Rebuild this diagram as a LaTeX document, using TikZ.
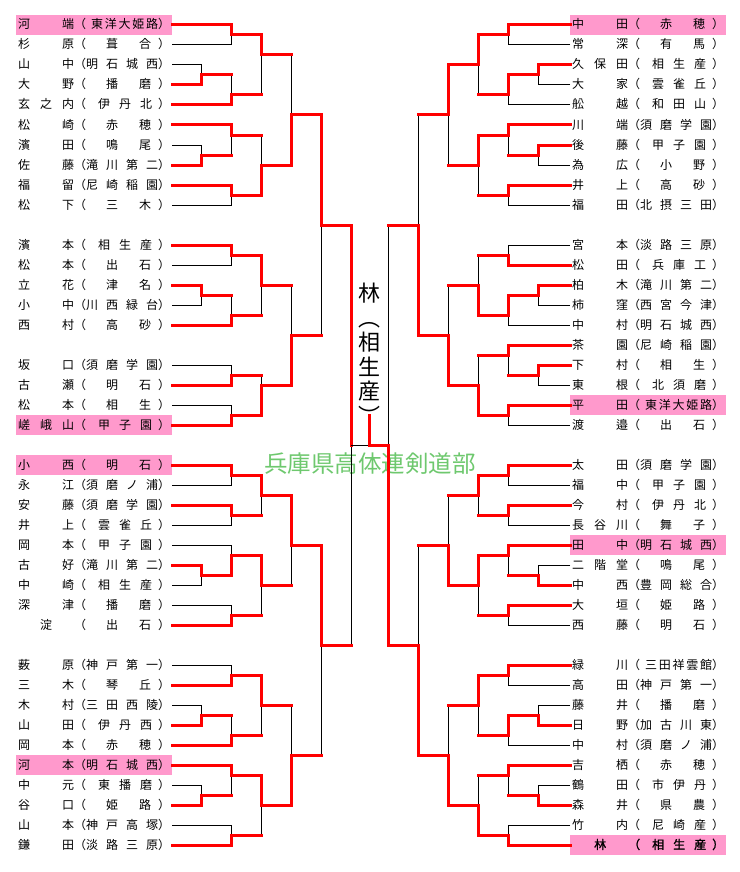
\documentclass[tikz,border=0pt]{standalone}
\usepackage{fontspec}
\newfontfamily\jp{Noto Sans CJK JP}
\newfontfamily\jpbold{Noto Sans CJK JP}[FakeBold=1.6]

\definecolor{seed}{RGB}{255,153,204}
\definecolor{orggreen}{RGB}{110,200,110}

% spread the characters of a name over a fixed width
\makeatletter
\newcount\nch
\def\countch#1{\nch=0 \@tfor\@tmp:=#1\do{\advance\nch\@ne}}
\makeatother
\newcommand\spread[1]{\spreadA#1\relax}
\def\spreadA#1{\ifx\relax#1\else#1\expandafter\spreadB\fi}
\def\spreadB#1{\ifx\relax#1\else\hfil#1\expandafter\spreadB\fi}
\def\padL{\ifcase\nch 0pt\or 30pt\or 20pt\or 12pt\or 0pt\else 5pt\fi}
\def\padR{\ifcase\nch 0pt\or 30pt\or 7pt\or 6pt\or 0pt\else 0pt\fi}
\newcommand\sname[1]{\edef\tmpa{#1}\expandafter\snameX\expandafter{\tmpa}}
\newcommand\snameX[1]{\countch{#1}\ifnum\nch=1 \makebox[56pt][c]{#1}\else\makebox[56pt][s]{\spread{#1}}\fi}
\newcommand\school[1]{\edef\tmpb{#1}\expandafter\schoolX\expandafter{\tmpb}}
\newcommand\schoolX[1]{\countch{#1}\makebox[72pt][s]{\hspace*{\padL}\spread{#1}\hspace*{\padR}}}

\tikzset{
  entry/.style = {anchor=west, inner xsep=2pt, inner ysep=0pt, minimum height=20pt,
                  text height=10pt, text depth=2pt, font=\jp\fontsize{12}{12}\selectfont},
  champ/.style = {anchor=north, inner sep=0pt, align=center, font=\jp\fontsize{22}{24.5}\selectfont},
  org/.style   = {inner sep=0pt, text=orggreen, font=\jp\fontsize{23.5}{24}\selectfont},
  lose/.style  = {draw=black, line width=1pt},
  win/.style   = {draw=red, line width=3pt, line cap=rect}
}

% match / x / y / winner / loser / colour of the loser's line
\def\bouts{
  a1/231/35/L1.east/L2.east/lose, p1/201/75/L4.east/L3.east/lose,
  a2/231/95/L5.east/p1/win, b1/261/55/a1/a2/win,
  p2/201/155/L8.east/L7.east/lose, a3/231/135/L6.east/p2/win,
  a4/231/195/L9.east/L10.east/lose, b2/261/165/a4/a3/win,
  c1/291/115/b2/b1/win,
  a5/231/255/L11.east/L12.east/lose, p3/201/295/L13.east/L14.east/lose,
  a6/231/315/L15.east/p3/win, b3/261/285/a5/a6/win,
  a7/231/375/L17.east/L16.east/lose, a8/231/415/L19.east/L18.east/lose,
  b4/261/385/a8/a7/win, c2/291/335/b4/b3/win,
  d1/321/225/c1/c2/win,
  a9/231/475/L20.east/L21.east/lose, a10/231/515/L22.east/L23.east/lose,
  b5/261/495/a9/a10/win,
  p4/201/575/L25.east/L26.east/lose, a11/231/555/p4/L24.east/lose,
  a12/231/615/L28.east/L27.east/lose, b6/261/585/a11/a12/win,
  c3/291/545/b5/b6/win,
  a13/231/675/L30.east/L29.east/lose, p5/201/715/L32.east/L31.east/lose,
  a14/231/735/L33.east/p5/win, b7/261/705/a13/a14/win,
  p6/201/795/L36.east/L35.east/lose, a15/231/775/L34.east/p6/win,
  a16/231/835/L38.east/L37.east/lose, b8/261/805/a15/a16/win,
  c4/291/755/b8/b7/win,
  d2/321/645/c3/c4/win,
  sL/351/445/d1/d2/win,
  e1/508/35/R1.west/R2.west/lose, q1/538/75/R3.west/R4.west/lose,
  e2/508/95/q1/R5.west/lose, f1/478/65/e1/e2/win,
  q2/538/155/R7.west/R8.west/lose, e3/508/135/R6.west/q2/win,
  e4/508/195/R9.west/R10.west/lose, f2/478/165/e3/e4/win,
  g1/448/115/f1/f2/win,
  e5/508/255/R12.west/R11.west/lose, q3/538/295/R13.west/R14.west/lose,
  e6/508/315/q3/R15.west/lose, f3/478/285/e6/e5/win,
  q4/538/375/R17.west/R18.west/lose, e7/508/355/R16.west/q4/win,
  e8/508/415/R19.west/R20.west/lose, f4/478/385/e8/e7/win,
  g2/448/335/f4/f3/win,
  h1/418/225/g2/g1/win,
  e9/508/475/R21.west/R22.west/lose, e10/508/515/R23.west/R24.west/lose,
  f5/478/495/e9/e10/win,
  q5/538/575/R27.west/R26.west/lose, e11/508/555/R25.west/q5/win,
  e12/508/615/R28.west/R29.west/lose, f6/478/585/e11/e12/win,
  g3/448/545/f6/f5/win,
  e13/508/675/R30.west/R31.west/lose, q6/538/715/R33.west/R32.west/lose,
  e14/508/735/q6/R34.west/lose, f7/478/705/e13/e14/win,
  q7/538/795/R37.west/R36.west/lose, e15/508/775/R35.west/q7/win,
  e16/508/835/R39.west/R38.west/lose, f8/478/805/e16/e15/win,
  g4/448/755/f8/f7/win,
  h2/418/645/g4/g3/win,
  sR/388/445/h2/h1/win}

\begin{document}
\begin{tikzpicture}[x=1pt, y=-1pt]
\useasboundingbox (0,0) rectangle (739,872);

% left half
\foreach \n/\y/\sur/\sch/\f in {
  L1/25/河端/東洋大姫路/seed, L2/45/杉原/葺合/none, L3/65/山中/明石城西/none,
  L4/85/大野/播磨/none, L5/105/玄之内/伊丹北/none, L6/125/松崎/赤穂/none,
  L7/145/濱田/鳴尾/none, L8/165/佐藤/滝川第二/none, L9/185/福留/尼崎稲園/none,
  L10/205/松下/三木/none,
  L11/245/濱本/相生産/none, L12/265/松本/出石/none, L13/285/立花/津名/none,
  L14/305/小中/川西緑台/none, L15/325/西村/高砂/none, L16/365/坂口/須磨学園/none,
  L17/385/古瀬/明石/none, L18/405/松本/相生/none, L19/425/嵯峨山/甲子園/seed,
  L20/465/小西/明石/seed, L21/485/永江/須磨ノ浦/none, L22/505/安藤/須磨学園/none,
  L23/525/井上/雲雀丘/none, L24/545/岡本/甲子園/none, L25/565/古好/滝川第二/none,
  L26/585/中崎/相生産/none, L27/605/深津/播磨/none, L28/625/淀/出石/none,
  L29/665/薮原/神戸第一/none, L30/685/三木/琴丘/none, L31/705/木村/三田西陵/none,
  L32/725/山田/伊丹西/none, L33/745/岡本/赤穂/none, L34/765/河本/明石城西/seed,
  L35/785/中元/東播磨/none, L36/805/谷口/姫路/none, L37/825/山本/神戸高塚/none,
  L38/845/鎌田/淡路三原/none}
  \node[entry, fill=\f] (\n) at (16,\y) {\sname{\sur}（\school{\sch}）};

% right half
\foreach \n/\y/\sur/\sch/\f in {
  R1/25/中田/赤穂/seed, R2/45/常深/有馬/none, R3/65/久保田/相生産/none,
  R4/85/大家/雲雀丘/none, R5/105/舩越/和田山/none, R6/125/川端/須磨学園/none,
  R7/145/後藤/甲子園/none, R8/165/為広/小野/none, R9/185/井上/高砂/none,
  R10/205/福田/北摂三田/none,
  R11/245/宮本/淡路三原/none, R12/265/松田/兵庫工/none, R13/285/柏木/滝川第二/none,
  R14/305/柿窪/西宮今津/none, R15/325/中村/明石城西/none, R16/345/茶園/尼崎稲園/none,
  R17/365/下村/相生/none, R18/385/東根/北須磨/none, R19/405/平田/東洋大姫路/seed,
  R20/425/渡邉/出石/none,
  R21/465/太田/須磨学園/none, R22/485/福中/甲子園/none, R23/505/今村/伊丹北/none,
  R24/525/長谷川/舞子/none, R25/545/田中/明石城西/seed, R26/565/二階堂/鳴尾/none,
  R27/585/中西/豊岡総合/none, R28/605/大垣/姫路/none, R29/625/西藤/明石/none,
  R30/665/緑川/三田祥雲館/none, R31/685/高田/神戸第一/none, R32/705/藤井/播磨/none,
  R33/725/日野/加古川東/none, R34/745/中村/須磨ノ浦/none, R35/765/吉栖/赤穂/none,
  R36/785/鶴田/市伊丹/none, R37/805/森井/県農/none, R38/825/竹内/尼崎産/none}
  \node[entry, fill=\f] (\n) at (570,\y) {\sname{\sur}（\school{\sch}）};
\node[entry, fill=seed, font=\jpbold\fontsize{12}{12}\selectfont] (R39) at (570,845)
  {\sname{林}（\school{相生産}）};

\node[org] (org) at (370,464) {兵庫県高体連剣道部};
\node[champ] (champ) at (369.5,283) {林\\︵\\相\\生\\産\\︶};

% losers first, then the winners' lines on top
\foreach \m/\x/\y/\w/\l/\h in \bouts {
  \coordinate (\m) at (\x,\y);
  \draw[lose] (\l) -| (\m);
}
\foreach \m/\x/\y/\w/\l/\h in \bouts {
  \draw[win] (\w) -| (\m);
  \draw[\h] (\l) -- (\l -| \m);
}

\coordinate (fin) at (369.5,445);
\coordinate (crown) at (369.5,415);
\draw[lose] (sL) -- (fin);
\draw[win] (sR) -- (fin) -- (crown);

\end{tikzpicture}
\end{document}
